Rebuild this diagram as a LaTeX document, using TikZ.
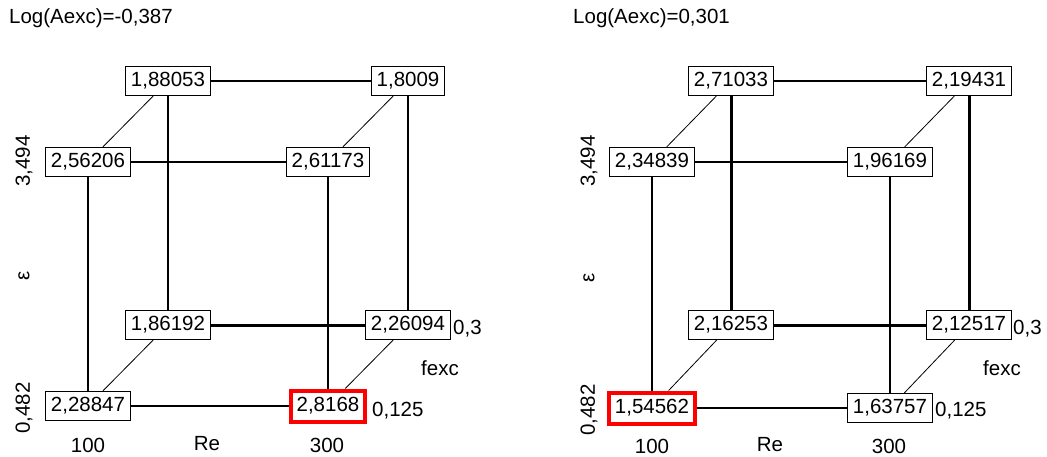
\documentclass[tikz,border=0pt]{standalone}
\usepackage{fontspec}
\setmainfont{Liberation Sans}
\begin{document}
\begin{tikzpicture}[x=1pt,y=-1pt,
  every node/.style={font=\fontsize{20.5}{24}\selectfont, inner sep=0pt},
  valbox/.style={draw, line width=1.1pt, inner xsep=5.5pt, inner ysep=0pt, minimum height=29pt, fill=white},
  hotbox/.style={valbox, draw=red, line width=4pt, minimum height=31pt},
  edgeline/.style={line width=1.1pt},
  boldline/.style={line width=3pt},
  diagline/.style={line width=0.8pt},
  lab/.style={},
  vlab/.style={rotate=90}]
\useasboundingbox (0,0) rectangle (1047,456);
\fill[white] (0,0) rectangle (1047,456);

% ---------- left cube ----------
\node[lab, anchor=west] (Ltitle) at (9,18) {Log(Aexc)=-0,387};
\node[valbox] (LBTL) at (168,81) {1,88053};
\node[valbox] (LBTR) at (408,81) {1,8009};
\node[valbox] (LFTL) at (88,162) {2,56206};
\node[valbox] (LFTR) at (328,162) {2,61173};
\node[valbox] (LBBL) at (168,325) {1,86192};
\node[valbox] (LBBR) at (408,325) {2,26094};
\node[valbox] (LFBL) at (88,406) {2,28847};
\node[hotbox] (LFBR) at (328,406) {2,8168};

\draw[edgeline] (LBTL) -- (LBTR);
\draw[edgeline] (LFTL) -- (LFTR);
\draw[boldline] (LBBL) -- (LBBR);
\draw[edgeline] (LFBL) -- (LFBR);
\draw[edgeline] (LFTL) -- (LFBL);
\draw[edgeline] (LBTL) -- (LBBL);
\draw[edgeline] (LFTR) -- (LFBR);
\draw[edgeline] (LBTR) -- (LBBR);
\draw[diagline] (LBTL) -- (LFTL);
\draw[diagline] (LBTR) -- (LFTR);
\draw[diagline] (LBBL) -- (LFBL);
\draw[diagline] (LBBR) -- (LFBR);

\node[vlab] (Ly1) at (24,161) {3,494};
\node[vlab] (Lyl) at (24,276) {ε};
\node[vlab] (Ly0) at (24,408) {0,482};
\node[lab] (Lx0) at (88,445) {100};
\node[lab] (Lxl) at (207,444) {Re};
\node[lab] (Lx1) at (327,445) {300};
\node[lab, anchor=west] (Lz1) at (453,329) {0,3};
\node[lab] (Lzl) at (440,368) {fexc};
\node[lab, anchor=west] (Lz0) at (372,411) {0,125};

% ---------- right cube ----------
\node[lab, anchor=west] (Rtitle) at (573,18) {Log(Aexc)=0,301};
\node[valbox] (RBTL) at (731,81) {2,71033};
\node[valbox] (RBTR) at (969,81) {2,19431};
\node[valbox] (RFTL) at (652,162) {2,34839};
\node[valbox] (RFTR) at (890,162) {1,96169};
\node[valbox] (RBBL) at (731,325) {2,16253};
\node[valbox] (RBBR) at (969,325) {2,12517};
\node[hotbox] (RFBL) at (652,408) {1,54562};
\node[valbox] (RFBR) at (890,408) {1,63757};

\draw[edgeline] (RBTL) -- (RBTR);
\draw[edgeline] (RFTL) -- (RFTR);
\draw[boldline] (RBBL) -- (RBBR);
\draw[edgeline] (RFBL) -- (RFBR);
\draw[edgeline] (RFTL) -- (RFBL);
\draw[boldline] (RBTL) -- (RBBL);
\draw[edgeline] (RFTR) -- (RFBR);
\draw[boldline] (RBTR) -- (RBBR);
\draw[diagline] (RBTL) -- (RFTL);
\draw[diagline] (RBTR) -- (RFTR);
\draw[diagline] (RBBL) -- (RFBL);
\draw[diagline] (RBBR) -- (RFBR);

\node[vlab] (Ry1) at (589,161) {3,494};
\node[vlab] (Ryl) at (589,278) {ε};
\node[vlab] (Ry0) at (589,410) {0,482};
\node[lab] (Rx0) at (652,446) {100};
\node[lab] (Rxl) at (770,445) {Re};
\node[lab] (Rx1) at (889,446) {300};
\node[lab, anchor=west] (Rz1) at (1013,329) {0,3};
\node[lab] (Rzl) at (1002,368) {fexc};
\node[lab, anchor=west] (Rz0) at (935,411) {0,125};
\end{tikzpicture}
\end{document}
